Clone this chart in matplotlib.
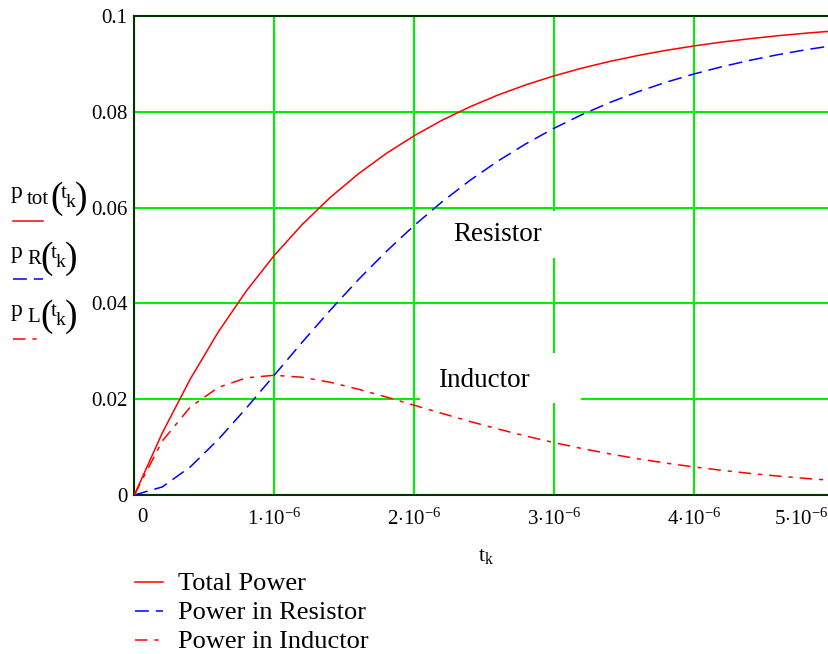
import matplotlib
matplotlib.use("Agg")
import matplotlib.pyplot as plt
from matplotlib.patches import Rectangle
from matplotlib.lines import Line2D

plt.rcParams['font.family'] = ['Liberation Serif', 'DejaVu Serif']
plt.rcParams['mathtext.fontset'] = 'custom'
plt.rcParams['mathtext.rm'] = 'Liberation Serif'
plt.rcParams['mathtext.it'] = 'Liberation Serif:italic'
plt.rcParams['lines.scale_dashes'] = False

# time samples (s) and power curves (W)
t_k = [0.0, 0.2e-6, 0.4e-6, 0.6e-6, 0.8e-6, 1.0e-6, 1.2e-6, 1.4e-6, 1.6e-6,
       1.8e-6, 2.0e-6, 2.2e-6, 2.4e-6, 2.6e-6, 2.8e-6, 3.0e-6, 3.2e-6,
       3.4e-6, 3.6e-6, 3.8e-6, 4.0e-6, 4.2e-6, 4.4e-6, 4.6e-6, 4.8e-6, 5.0e-6]
p_tot = [0.0, 0.01295, 0.02421, 0.03403, 0.04257, 0.05, 0.05647, 0.06211,
         0.06701, 0.07128, 0.075, 0.07824, 0.08105, 0.08351, 0.08564, 0.0875,
         0.08912, 0.09053, 0.09175, 0.09282, 0.09375, 0.09456, 0.09526,
         0.09588, 0.09641, 0.09688]
p_R = [0.0, 0.00168, 0.00586, 0.01158, 0.01812, 0.025, 0.03189, 0.03857,
       0.04491, 0.05081, 0.05625, 0.06121, 0.0657, 0.06973, 0.07334, 0.07656,
       0.07942, 0.08195, 0.08419, 0.08616, 0.08789, 0.08941, 0.09075, 0.09192,
       0.09295, 0.09385]
p_L = [0.0, 0.01127, 0.01835, 0.02245, 0.02445, 0.025, 0.02458, 0.02354,
       0.0221, 0.02047, 0.01875, 0.01703, 0.01535, 0.01378, 0.0123, 0.01094,
       0.0097, 0.00858, 0.00756, 0.00666, 0.00586, 0.00515, 0.00451, 0.00396,
       0.00346, 0.00303]

x_ticks = [0.0, 1e-6, 2e-6, 3e-6, 4e-6, 5e-6]
x_labels = ['0', r'$\mathrm{1{\cdot}10^{-6}}$', r'$\mathrm{2{\cdot}10^{-6}}$',
            r'$\mathrm{3{\cdot}10^{-6}}$', r'$\mathrm{4{\cdot}10^{-6}}$',
            r'$\mathrm{5{\cdot}10^{-6}}$']
y_ticks = [0.0, 0.02, 0.04, 0.06, 0.08, 0.1]
y_labels = ['0', '0.02', '0.04', '0.06', '0.08', '0.1']
legend_labels = ['Total Power', 'Power in Resistor', 'Power in Inductor']
curve_subs = ['tot', 'R', 'L']

RED = '#ff0000'
BLUE = '#0000ff'
GRID = '#00f000'
AXIS = '#003300'
DASH_R = (10, 5)
DASH_L = (9, 5, 3, 5)

W, H = 829, 654
fig = plt.figure(figsize=(W / 100, H / 100), dpi=100)
fig.patch.set_facecolor('white')

ax = fig.add_axes([134.3 / W, (H - 495) / H, 699.5 / W, 479 / H])
ax.set_xlim(0, 5e-6)
ax.set_ylim(0, 0.1)
ax.set_axisbelow(True)
ax.grid(True, color=GRID, linewidth=1.5)

ax.plot(t_k, p_tot, color=RED, linewidth=1.1, zorder=3)
ax.plot(t_k, p_R, color=BLUE, linewidth=1.1, dashes=DASH_R, zorder=3)
ax.plot(t_k, p_L, color=RED, linewidth=1.1, dashes=DASH_L, zorder=3)

# white boxes behind the annotations (they hide the grid)
ax.add_patch(Rectangle((2.15e-6, 0.0495), 1.04e-6, 0.0097, facecolor='white',
                       edgecolor='none', zorder=1))
ax.add_patch(Rectangle((2.04e-6, 0.0193), 1.15e-6, 0.0103, facecolor='white',
                       edgecolor='none', zorder=1))
ax.text(2.60e-6, 0.0543, 'Resistor', fontsize=19.5, ha='center', va='center', zorder=4)
ax.text(2.50e-6, 0.0240, 'Inductor', fontsize=19.5, ha='center', va='center', zorder=4)

for s in ['left', 'top', 'bottom']:
    ax.spines[s].set_color(AXIS)
    ax.spines[s].set_linewidth(1.5)
ax.spines['right'].set_visible(False)

ax.set_yticks(y_ticks)
ax.set_yticklabels(y_labels, fontsize=15)
ax.tick_params(axis='y', length=0, pad=5)
ax.set_xticks(x_ticks)
ax.set_xticklabels([])
ax.tick_params(axis='x', length=0)

# x tick labels placed by hand (Mathcad shifts the end labels inward)
for xv, lab in zip(x_ticks, x_labels):
    if xv == 0:
        ax.text(0.055e-6, -0.0028, lab, fontsize=15, ha='center', va='top',
                clip_on=False)
    elif xv == x_ticks[-1]:
        ax.text(4.96e-6, -0.0028, lab, fontsize=15, ha='right', va='top',
                clip_on=False)
    else:
        ax.text(xv, -0.0028, lab, fontsize=15, ha='center', va='top',
                clip_on=False)

# overlay in pixel coordinates for the Mathcad-style labels and legend
ov = fig.add_axes([0, 0, 1, 1], zorder=-1)
ov.set_xlim(0, W)
ov.set_ylim(H, 0)
ov.axis('off')

ov.text(486, 557, r'$\mathrm{t_k}$', fontsize=16, ha='center', va='center')

# y-axis labels p_x(t_k), built piece by piece to get the tall parentheses
label_base = [198, 258, 316]
paren_x = [(50, 75), (40, 65), (40, 65)]
line_y = [221, 279, 339]
styles = [dict(color=RED), dict(color=BLUE, dashes=DASH_R),
          dict(color=RED, dashes=DASH_L)]
for sub, yb, (lp, rp), ly, st in zip(curve_subs, label_base, paren_x, line_y, styles):
    ov.text(11, yb, 'p', fontsize=17, ha='left', va='baseline')
    ov.text(27, yb + 6, sub, fontsize=15, ha='left', va='baseline')
    ov.text(lp, yb + 10, '(', fontsize=27, ha='left', va='baseline')
    ov.text(lp + 11, yb, 't', fontsize=15, ha='left', va='baseline')
    ov.text(lp + 16, yb + 9, 'k', fontsize=14, ha='left', va='baseline')
    ov.text(rp, yb + 10, ')', fontsize=27, ha='left', va='baseline')
    ov.add_line(Line2D([13, 43], [ly, ly], linewidth=1.1, **st))

leg_y = [584, 613, 642]
for lab, ly, st in zip(legend_labels, leg_y, styles):
    ov.add_line(Line2D([135, 163], [ly - 2, ly - 2], linewidth=1.1, **st))
    ov.text(178, ly, lab, fontsize=19, ha='left', va='center')

fig.savefig('out.png', dpi=100, facecolor='white')
